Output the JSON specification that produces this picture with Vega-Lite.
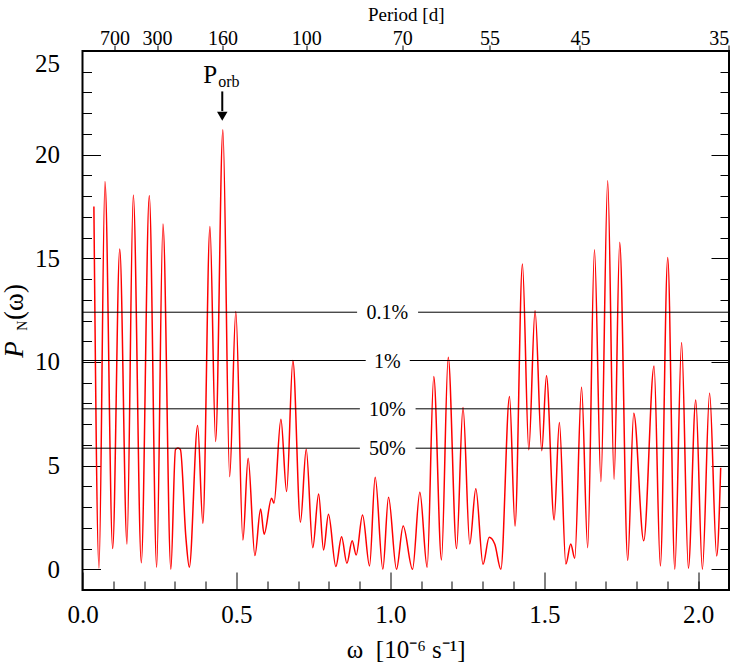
{
  "$schema": "https://vega.github.io/schema/vega-lite/v6.json",
  "width": 646.5,
  "height": 539,
  "autosize": {"type": "none"},
  "padding": {"left": 82.5, "top": 51, "right": 5, "bottom": 74},
  "background": "white",
  "config": {
    "font": "Liberation Serif",
    "view": {"stroke": "black", "strokeWidth": 2},
    "axis": {"grid": false, "domain": false, "tickColor": "black", "tickWidth": 1, "labelColor": "black", "titleColor": "black", "labelFont": "Liberation Serif", "titleFont": "Liberation Serif", "labelFontSize": 25, "titleFontWeight": "normal"},
    "text": {"font": "Liberation Serif", "color": "black"}
  },
  "datasets": {
    "spectrum": [
      {"w": 0.037, "p": 17.5}, {"w": 0.0536, "p": 0.05}, {"w": 0.073, "p": 18.7}, {"w": 0.098, "p": 1.0},
      {"w": 0.121, "p": 15.45}, {"w": 0.1445, "p": 1.22}, {"w": 0.165, "p": 18.05}, {"w": 0.191, "p": 0.32},
      {"w": 0.217, "p": 18.03}, {"w": 0.241, "p": 0.1}, {"w": 0.2614, "p": 16.66}, {"w": 0.287, "p": 0.0},
      {"w": 0.302, "p": 5.78}, {"w": 0.31, "p": 5.85}, {"w": 0.318, "p": 5.78}, {"w": 0.336, "p": 1.5},
      {"w": 0.347, "p": 0.1}, {"w": 0.374, "p": 6.93}, {"w": 0.391, "p": 2.22}, {"w": 0.414, "p": 16.54},
      {"w": 0.4324, "p": 6.16}, {"w": 0.456, "p": 21.2}, {"w": 0.478, "p": 4.47}, {"w": 0.498, "p": 12.43},
      {"w": 0.521, "p": 1.41}, {"w": 0.538, "p": 5.36}, {"w": 0.56, "p": 0.66}, {"w": 0.5785, "p": 2.91},
      {"w": 0.59, "p": 1.69}, {"w": 0.614, "p": 3.43}, {"w": 0.622, "p": 3.19}, {"w": 0.6445, "p": 7.24},
      {"w": 0.663, "p": 3.75}, {"w": 0.6834, "p": 10.07}, {"w": 0.708, "p": 2.27}, {"w": 0.7267, "p": 5.79},
      {"w": 0.748, "p": 1.04}, {"w": 0.767, "p": 3.63}, {"w": 0.783, "p": 0.93}, {"w": 0.799, "p": 2.65},
      {"w": 0.823, "p": 0.13}, {"w": 0.8415, "p": 1.57}, {"w": 0.8588, "p": 0.29}, {"w": 0.876, "p": 1.37},
      {"w": 0.889, "p": 0.69}, {"w": 0.9097, "p": 2.62}, {"w": 0.9324, "p": 0.16}, {"w": 0.9507, "p": 4.44},
      {"w": 0.9756, "p": 0.0}, {"w": 0.994, "p": 3.47}, {"w": 1.02, "p": 0.0}, {"w": 1.0416, "p": 2.09},
      {"w": 1.072, "p": 0.0}, {"w": 1.0958, "p": 3.72}, {"w": 1.1195, "p": 0.1}, {"w": 1.141, "p": 9.3},
      {"w": 1.166, "p": 0.45}, {"w": 1.188, "p": 10.23}, {"w": 1.215, "p": 1.0}, {"w": 1.236, "p": 7.8},
      {"w": 1.258, "p": 1.22}, {"w": 1.2776, "p": 3.89}, {"w": 1.301, "p": 0.24}, {"w": 1.321, "p": 1.54},
      {"w": 1.339, "p": 1.22}, {"w": 1.359, "p": 0.0}, {"w": 1.387, "p": 8.33}, {"w": 1.405, "p": 2.09},
      {"w": 1.429, "p": 14.73}, {"w": 1.4497, "p": 5.76}, {"w": 1.47, "p": 12.47}, {"w": 1.4919, "p": 5.72},
      {"w": 1.507, "p": 9.33}, {"w": 1.532, "p": 2.38}, {"w": 1.549, "p": 7.08}, {"w": 1.57, "p": 0.25},
      {"w": 1.586, "p": 1.22}, {"w": 1.599, "p": 0.53}, {"w": 1.621, "p": 8.78}, {"w": 1.641, "p": 1.04},
      {"w": 1.663, "p": 15.41}, {"w": 1.684, "p": 4.23}, {"w": 1.706, "p": 18.74}, {"w": 1.7267, "p": 4.34},
      {"w": 1.745, "p": 15.78}, {"w": 1.771, "p": 0.42}, {"w": 1.7906, "p": 7.53}, {"w": 1.823, "p": 1.37},
      {"w": 1.8565, "p": 9.81}, {"w": 1.877, "p": 0.16}, {"w": 1.901, "p": 15.04}, {"w": 1.924, "p": 0.0},
      {"w": 1.946, "p": 10.94}, {"w": 1.968, "p": 0.05}, {"w": 1.992, "p": 8.17}, {"w": 2.0136, "p": 0.0},
      {"w": 2.037, "p": 8.49}, {"w": 2.06, "p": 0.64}, {"w": 2.073, "p": 4.9}
    ],
    "thresholds": [
      {"level": "0.1%", "p": 12.4, "a": 0, "b": 0.892}, {"level": "0.1%", "p": 12.4, "a": 1.09, "b": 2.1},
      {"level": "1%", "p": 10.07, "a": 0, "b": 0.92}, {"level": "1%", "p": 10.07, "a": 1.063, "b": 2.1},
      {"level": "10%", "p": 7.74, "a": 0, "b": 0.901}, {"level": "10%", "p": 7.74, "a": 1.082, "b": 2.1},
      {"level": "50%", "p": 5.84, "a": 0, "b": 0.901}, {"level": "50%", "p": 5.84, "a": 1.082, "b": 2.1}
    ],
    "levels": [
      {"level": "0.1%", "p": 12.4}, {"level": "1%", "p": 10.07}, {"level": "10%", "p": 7.74}, {"level": "50%", "p": 5.84}
    ]
  },
  "resolve": {"axis": {"x": "independent", "y": "independent"}},
  "layer": [
    {
      "data": {"name": "spectrum"},
      "mark": {"type": "line", "color": "#ff0000", "strokeWidth": 1.5, "interpolate": "monotone"},
      "encoding": {
        "x": {"field": "w", "type": "quantitative", "scale": {"domain": [0, 2.1], "nice": false, "zero": false},
          "axis": {"orient": "bottom", "values": [0, 0.5, 1, 1.5, 2], "format": ".1f", "tickSize": -18, "labelPadding": 30, "labelFlush": false, "title": "ω\u2002[10⁻⁶ s⁻¹]", "titleFontSize": 25, "titlePadding": 10}},
        "y": {"field": "p", "type": "quantitative", "scale": {"domain": [-1, 25], "nice": false, "zero": false},
          "axis": {"orient": "left", "values": [0, 5, 10, 15, 20, 25], "tickSize": -18, "labelPadding": 41, "labelFlush": true, "title": null}}
      }
    },
    {
      "data": {"name": "thresholds"},
      "mark": {"type": "rule", "color": "black", "strokeWidth": 1},
      "encoding": {
        "x": {"field": "a", "type": "quantitative",
          "axis": {"orient": "bottom", "values": [0.1, 0.2, 0.3, 0.4, 0.6, 0.7, 0.8, 0.9, 1.1, 1.2, 1.3, 1.4, 1.6, 1.7, 1.8, 1.9, 2.0], "tickSize": -9, "labels": false, "title": null}},
        "x2": {"field": "b"},
        "y": {"field": "p", "type": "quantitative",
          "axis": {"orient": "left", "values": [1, 2, 3, 4, 6, 7, 8, 9, 11, 12, 13, 14, 16, 17, 18, 19, 21, 22, 23, 24], "tickSize": -9, "labels": false, "title": null}}
      }
    },
    {
      "data": {"name": "levels"},
      "mark": {"type": "text", "fontSize": 20, "baseline": "middle", "align": "center", "dy": 1},
      "encoding": {
        "x": {"datum": 0.99, "type": "quantitative",
          "axis": {"orient": "top", "values": [0.1039, 0.2424, 0.4545, 0.7272, 1.0389, 1.3222, 1.616, 2.099], "labelExpr": "round(2*PI/(datum.value*0.0864))", "tickSize": 6, "labelPadding": -3, "labelFontSize": 20, "title": "Period [d]", "titleFontSize": 19, "titlePadding": 4}},
        "y": {"field": "p", "type": "quantitative",
          "axis": {"orient": "right", "values": [0, 5, 10, 15, 20, 25], "tickSize": -18, "labels": false, "title": null}},
        "text": {"field": "level"}
      }
    },
    {
      "data": {"values": [{}]},
      "mark": {"type": "rule", "color": "black", "strokeWidth": 2},
      "encoding": {
        "x": {"datum": 0.454, "type": "quantitative", "axis": null},
        "y": {"datum": 23.05, "type": "quantitative",
          "axis": {"orient": "right", "values": [1, 2, 3, 4, 6, 7, 8, 9, 11, 12, 13, 14, 16, 17, 18, 19, 21, 22, 23, 24], "tickSize": -9, "labels": false, "title": null}},
        "y2": {"datum": 22.1}
      }
    },
    {
      "data": {"values": [{}]},
      "mark": {"type": "point", "shape": "triangle-down", "filled": true, "color": "black", "size": 110, "opacity": 1},
      "encoding": {
        "x": {"datum": 0.454, "type": "quantitative", "axis": null},
        "y": {"datum": 21.85, "type": "quantitative", "axis": null}
      }
    },
    {
      "data": {"values": [{}]},
      "mark": {"type": "text", "text": "P", "fontSize": 25, "align": "right", "baseline": "alphabetic", "dx": -5},
      "encoding": {
        "x": {"datum": 0.454, "type": "quantitative", "axis": null},
        "y": {"datum": 23.48, "type": "quantitative", "axis": null}
      }
    },
    {
      "data": {"values": [{}]},
      "mark": {"type": "text", "text": "orb", "fontSize": 16, "align": "left", "baseline": "alphabetic", "dx": -4, "dy": 4},
      "encoding": {
        "x": {"datum": 0.454, "type": "quantitative", "axis": null},
        "y": {"datum": 23.48, "type": "quantitative", "axis": null}
      }
    },
    {
      "data": {"values": [{}]},
      "mark": {"type": "text", "text": "P", "fontSize": 27, "fontStyle": "italic", "angle": 270, "align": "left", "baseline": "alphabetic"},
      "encoding": {
        "x": {"datum": -0.1924, "type": "quantitative", "axis": null},
        "y": {"datum": 10.2, "type": "quantitative", "axis": null}
      }
    },
    {
      "data": {"values": [{}]},
      "mark": {"type": "text", "text": "N", "fontSize": 14, "angle": 270, "align": "left", "baseline": "alphabetic"},
      "encoding": {
        "x": {"datum": -0.1817, "type": "quantitative", "axis": null},
        "y": {"datum": 11.5, "type": "quantitative", "axis": null}
      }
    },
    {
      "data": {"values": [{}]},
      "mark": {"type": "text", "text": "(ω)", "fontSize": 27, "angle": 270, "align": "left", "baseline": "alphabetic"},
      "encoding": {
        "x": {"datum": -0.1924, "type": "quantitative", "axis": null},
        "y": {"datum": 12.03, "type": "quantitative", "axis": null}
      }
    }
  ]
}
